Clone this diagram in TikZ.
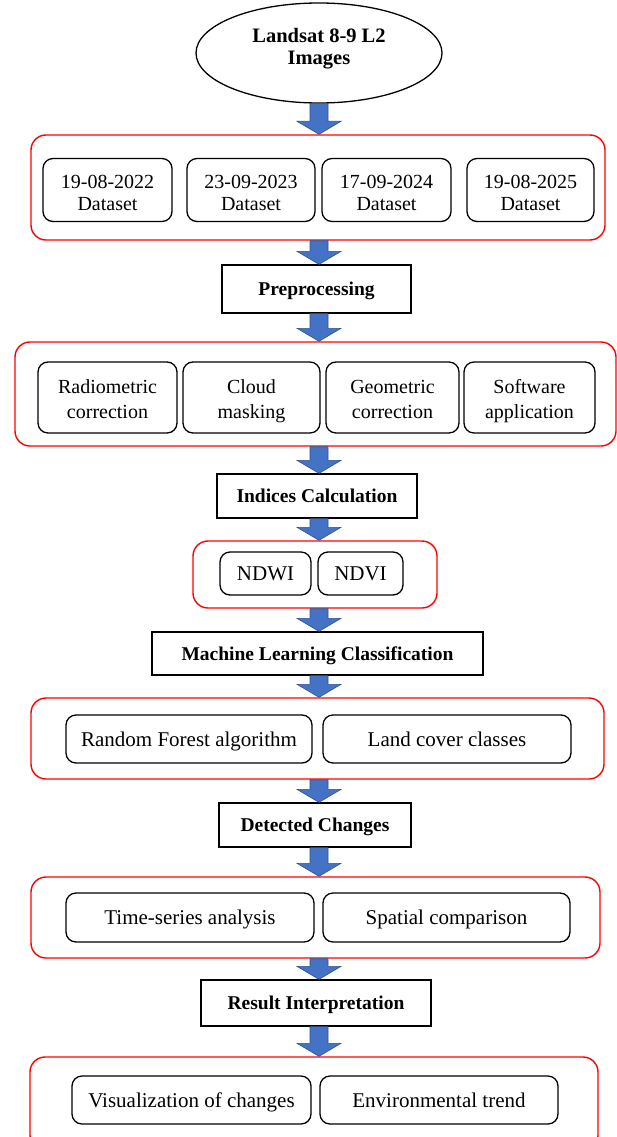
\documentclass[tikz,border=0pt]{standalone}
\usepackage{fontspec}
\setmainfont{Liberation Serif}
\usetikzlibrary{shapes.geometric,calc}

\definecolor{arrowblue}{HTML}{4472C4}
\definecolor{arrowedge}{HTML}{2F528F}

% struts that keep the text centred in its box
\newcommand{\topstrut}{\rule{0pt}{1em}}
\newcommand{\tallstrut}{\rule{0pt}{47pt}}
\newcommand{\botstrut}{\rule[-0.3em]{0pt}{0.3em}}
\newcommand{\ellstrut}{\rule[-13pt]{0pt}{13pt}}

% block arrow from one node down to the next
\newcommand{\flowarrow}[2]{%
  \path[blockarrow] let \p1=(#1.south), \p2=(#2.north) in
    (310pt,\y1) -- (328pt,\y1) -- (328pt,{\y2+13pt}) -- (341pt,{\y2+13pt})
    -- (319pt,\y2) -- (297pt,{\y2+13pt}) -- (310pt,{\y2+13pt}) -- cycle;}

\begin{document}
\begin{tikzpicture}[x=1pt,y=-1pt,
  font=\fontsize{20}{24}\selectfont,
  group/.style={draw=red, line width=1.4pt, rounded corners=15pt},
  item/.style={draw, line width=1.3pt, rounded corners=10pt, align=center, inner sep=2pt,
    execute at begin node=\topstrut, execute at end node=\botstrut},
  wide/.style={item, font=\fontsize{21}{24}\selectfont},
  twoline/.style={item, execute at begin node=\tallstrut},
  stage/.style={draw, line width=1.3pt, font=\fontsize{19.5}{23}\selectfont\bfseries,
    execute at begin node=\topstrut, execute at end node=\botstrut},
  blockarrow/.style={fill=arrowblue, draw=arrowedge, line width=0.6pt}]
\useasboundingbox (0,0) rectangle (617,1137);
\clip (0,0) rectangle (617,1137);

% Input images
\node[ellipse, draw, line width=1.3pt, minimum width=246, minimum height=100,
  align=center, font=\fontsize{20.5}{22}\selectfont\bfseries,
  execute at end node=\ellstrut] (landsat) at (319,53)
  {Landsat 8-9 L2\\Images};

% Datasets
\node[group, minimum width=574, minimum height=105] (grpData) at (318,187.5) {};
\node[twoline, minimum width=129, minimum height=63, font=\fontsize{20}{22}\selectfont] (dsA) at (107.5,190) {19-08-2022\\Dataset};
\node[twoline, minimum width=128, minimum height=63, font=\fontsize{20}{22}\selectfont] (dsB) at (251,190) {23-09-2023\\Dataset};
\node[twoline, minimum width=129, minimum height=63, font=\fontsize{20}{22}\selectfont] (dsC) at (386.5,190) {17-09-2024\\Dataset};
\node[twoline, minimum width=127, minimum height=63, font=\fontsize{20}{22}\selectfont] (dsD) at (530.5,190) {19-08-2025\\Dataset};

% Preprocessing
\node[stage, minimum width=189, minimum height=48] (prep) at (316.5,289) {Preprocessing};
\node[group, minimum width=601, minimum height=104] (grpPre) at (315.5,394) {};
\node[twoline, minimum width=139, minimum height=71, font=\fontsize{20}{25}\selectfont] (radio) at (107.5,397.5) {Radiometric\\correction};
\node[twoline, minimum width=137, minimum height=71, font=\fontsize{20}{25}\selectfont] (cloud) at (251.5,397.5) {Cloud\\masking};
\node[twoline, minimum width=133, minimum height=71, font=\fontsize{20}{25}\selectfont] (geom) at (392.5,397.5) {Geometric\\correction};
\node[twoline, minimum width=131, minimum height=71, font=\fontsize{20}{25}\selectfont] (soft) at (529.5,397.5) {Software\\application};

% Indices
\node[stage, minimum width=200, minimum height=44] (indices) at (317,496) {Indices Calculation};
\node[group, minimum width=244, minimum height=67] (grpIdx) at (315,574.5) {};
\node[wide, minimum width=91, minimum height=43] (ndwi) at (265.5,573.5) {NDWI};
\node[wide, minimum width=85, minimum height=43] (ndvi) at (360.5,573.5) {NDVI};

% Classification
\node[stage, minimum width=331, minimum height=43] (mlc) at (317.5,653.5) {Machine Learning Classification};
\node[group, minimum width=573, minimum height=81] (grpMl) at (317.5,738.5) {};
\node[wide, minimum width=246, minimum height=48] (rf) at (189,739) {Random Forest algorithm};
\node[wide, minimum width=248, minimum height=48] (lcc) at (447,739) {Land cover classes};

% Change detection
\node[stage, minimum width=192, minimum height=44] (detect) at (315,825) {Detected Changes};
\node[group, minimum width=569, minimum height=81] (grpDet) at (315.5,917.5) {};
\node[wide, minimum width=248, minimum height=49] (tsa) at (190,917.5) {Time-series analysis};
\node[wide, minimum width=247, minimum height=49] (spc) at (446.5,917.5) {Spatial comparison};

% Interpretation
\node[stage, minimum width=230, minimum height=46] (result) at (316,1003) {Result Interpretation};
\node[group, minimum width=568, minimum height=93] (grpRes) at (314,1103.5) {};
\node[wide, minimum width=239, minimum height=48] (vis) at (191.5,1100) {Visualization of changes};
\node[wide, minimum width=238, minimum height=48] (env) at (439,1100) {Environmental trend};

% Arrows
\flowarrow{landsat}{grpData}
\flowarrow{grpData}{prep}
\flowarrow{prep}{grpPre}
\flowarrow{grpPre}{indices}
\flowarrow{indices}{grpIdx}
\flowarrow{grpIdx}{mlc}
\flowarrow{mlc}{grpMl}
\flowarrow{grpMl}{detect}
\flowarrow{detect}{grpDet}
\flowarrow{grpDet}{result}
\flowarrow{result}{grpRes}

\end{tikzpicture}
\end{document}
